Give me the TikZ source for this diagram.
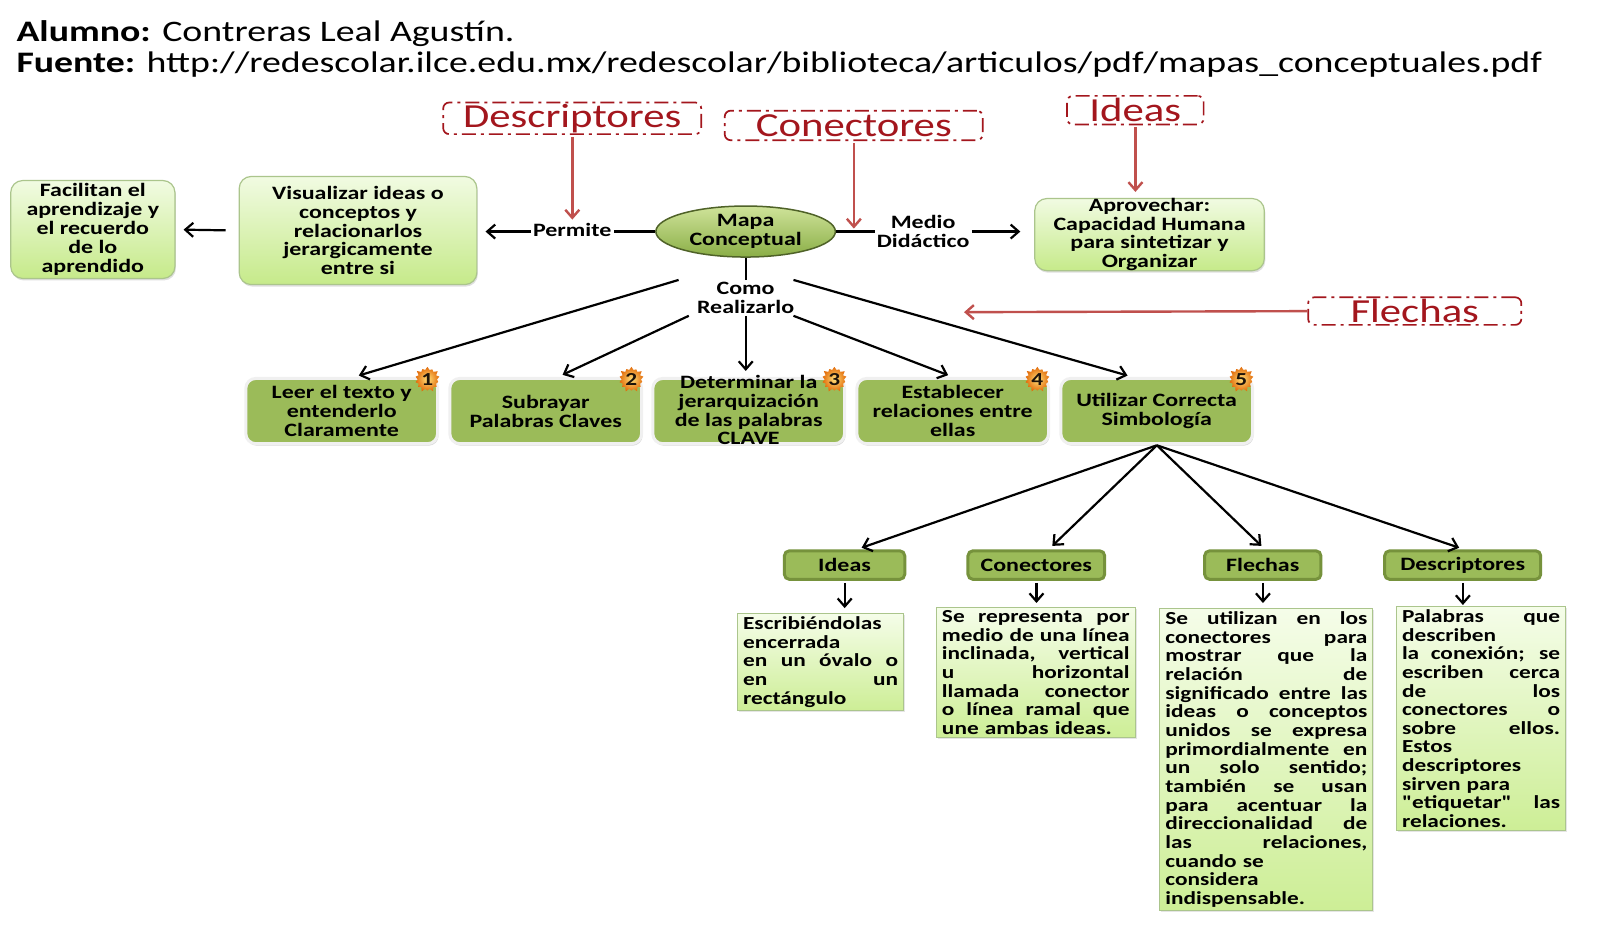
\documentclass[tikz,border=0pt]{standalone}
\usepackage{fontspec}
\setmainfont{Carlito}[FakeStretch=1.27]
\usetikzlibrary{arrows.meta,shapes.geometric,shapes.symbols,shadows,calc}
\definecolor{ogreen}{HTML}{9BBB59}
\definecolor{odark}{HTML}{76923C}
\definecolor{ltop}{HTML}{F1FBE2}
\definecolor{lbot}{HTML}{C6EA8A}
\definecolor{lborder}{HTML}{ABC58C}
\definecolor{dtop}{HTML}{F5FDE9}
\definecolor{dbot}{HTML}{CDEE96}
\definecolor{redtxt}{HTML}{A3161D}
\definecolor{redarr}{HTML}{C0504D}
\definecolor{etop}{HTML}{CFE39A}
\definecolor{ebot}{HTML}{8AAE46}
\definecolor{eborder}{HTML}{4F6228}
\definecolor{numtop}{HTML}{FFE07A}
\definecolor{numbot}{HTML}{E36C0A}
\newcommand{\jline}[1]{\makebox[\hsize][s]{\spaceskip=0.33em plus 1fil\xspaceskip=0.33em plus 1fil\relax #1}}
\newcommand{\sq}{{\addfontfeatures{Ligatures=TeXOff}"}}
\tikzset{
  txt/.style={font=\bfseries\fontsize{18.5}{18.5}\selectfont, align=center, inner sep=2pt},
  lightbox/.style={txt, rounded corners=12pt, draw=lborder, line width=1.2pt,
    top color=ltop, bottom color=lbot, inner sep=0pt,
    drop shadow={shadow xshift=1pt, shadow yshift=-2pt, opacity=0.25}},
  numbox/.style={txt, rounded corners=10pt, fill=ogreen, draw=white!94!black, line width=3pt,
    minimum width=188pt, minimum height=64pt, inner sep=0pt,
    drop shadow={shadow xshift=1pt, shadow yshift=-2pt, opacity=0.3}},
  badge/.style={starburst, starburst points=14, starburst point height=4pt,
    inner color=numtop, outer color=numbot, minimum size=27pt, inner sep=0pt,
    font=\bfseries\fontsize{18}{18}\selectfont, text=black!85!brown},
  tagbox/.style={txt, rounded corners=5pt, fill=ogreen, draw=odark, line width=3pt,
    minimum height=28pt, inner sep=0pt},
  descbox/.style={font=\bfseries\fontsize{18}{18.3}\selectfont, align=left, draw=lborder,
    line width=1pt, top color=dtop, bottom color=dbot, inner xsep=5.5pt, inner ysep=3pt,
    anchor=north, drop shadow={shadow xshift=1.5pt, shadow yshift=-1.5pt, opacity=0.2}},
  redbox/.style={draw=redtxt, text=redtxt, line width=1.7pt, rounded corners=6pt,
    dash pattern=on 14pt off 5pt on 3pt off 5pt,
    font=\fontsize{33}{33}\selectfont, inner sep=0pt},
  blk/.style={draw=black, line width=2.2pt, -{Straight Barb[length=8pt,width=14pt]}},
  blkline/.style={draw=black, line width=2.2pt},
  rarr/.style={draw=redarr, line width=2.4pt, -{Straight Barb[length=8pt,width=14pt]}},
}
\begin{document}
\begin{tikzpicture}[x=1pt,y=-1pt,scale=1.02,transform shape]
\fill[white] (0,0) rectangle (1568.63,926.47);
\useasboundingbox (0,0) rectangle (1568.63,926.47);

% header
\node[anchor=base west, inner sep=0pt, font=\fontsize{29.2}{33}\selectfont] (alumno) at (16,41)
  {\textbf{Alumno:} Contreras Leal Agustín.};
\node[anchor=base west, inner sep=0pt, font=\fontsize{29.2}{33}\selectfont] (fuente) at (16,71)
  {\textbf{Fuente:} http://redescolar.ilce.edu.mx/redescolar/biblioteca/articulos/pdf/mapas\_conceptuales.pdf};

% top row
\node[lightbox, minimum width=161pt, minimum height=96pt] (facil) at (91,225)
  {Facilitan el\\aprendizaje y\\el recuerdo\\de lo\\aprendido};
\node[lightbox, minimum width=233pt, minimum height=106pt] (visual) at (351,226)
  {Visualizar ideas o\\conceptos y\\relacionarlos\\jerargicamente\\entre si};
\node[txt] (permite) at (561,225) {Permite};
\node[ellipse, draw=eborder, line width=1.5pt, top color=etop, bottom color=ebot,
  minimum width=176pt, minimum height=50pt, inner sep=0pt,
  font=\bfseries\fontsize{18.5}{18}\selectfont, align=center] (mapa) at (731,227)
  {Mapa\\Conceptual};
\node[txt] (medio) at (905,227) {Medio\\Didáctico};
\node[lightbox, minimum width=225pt, minimum height=69pt, font=\bfseries\fontsize{18.5}{18.2}\selectfont] (aprov) at (1127,230)
  {Aprovechar:\\Capacidad Humana\\para sintetizar y\\Organizar};
\node[txt] (como) at (731,292) {Como\\Realizarlo};

% red labels
\node[redbox, minimum width=253pt, minimum height=31pt] (rDesc) at (561,116) {Descriptores};
\node[redbox, minimum width=253pt, minimum height=29pt] (rCon) at (837,123) {Conectores};
\node[redbox, minimum width=134pt, minimum height=28pt] (rIdeas) at (1113,108) {Ideas};
\node[redbox, minimum width=209pt, minimum height=27pt] (rFle) at (1387,305) {Flechas};
\coordinate (flTip) at (945,306);

% numbered boxes
\node[numbox] (b1) at (335,403) {Leer el texto y\\entenderlo\\Claramente};
\node[numbox] (b2) at (535,403) {Subrayar\\Palabras Claves};
\node[numbox] (b3) at (734,403)
  {\raisebox{-7pt}{\smash{\parbox{186pt}{\centering\fontsize{18.5}{18.3}\selectfont Determinar la\\jerarquización\\de las palabras\\CLAVE}}}};
\node[numbox] (b4) at (934,403) {Establecer\\relaciones entre\\ellas};
\node[numbox] (b5) at (1134,403) {Utilizar Correcta\\Simbología};
\node[badge] (n1) at (419,372) {1};
\node[badge] (n2) at (619,372) {2};
\node[badge] (n3) at (818,372) {3};
\node[badge] (n4) at (1017,372) {4};
\node[badge] (n5) at (1217,372) {5};

% tags
\node[tagbox, minimum width=118pt] (tIdeas) at (828,554) {Ideas};
\node[tagbox, minimum width=134pt] (tCon) at (1016,554) {Conectores};
\node[tagbox, minimum width=114pt] (tFle) at (1238,554) {Flechas};
\node[tagbox, minimum width=153pt] (tDes) at (1434,554) {Descriptores};

% descriptions
\node[descbox, text width=152pt] (dIdeas) at (804.5,601)
  {Escribiéndolas\\encerrada\\\jline{en un óvalo o}\\\jline{en un}\\rectángulo};
\node[descbox, text width=184pt] (dCon) at (1015.5,595)
  {\jline{Se representa por}\\\jline{medio de una línea}\\\jline{inclinada, vertical}\\\jline{u horizontal}\\\jline{llamada conector}\\\jline{o línea ramal que}\\une ambas ideas.};
\node[descbox, text width=198pt] (dFle) at (1241.5,596)
  {\jline{Se utilizan en los}\\\jline{conectores para}\\\jline{mostrar que la}\\\jline{relación de}\\\jline{significado entre las}\\\jline{ideas o conceptos}\\\jline{unidos se expresa}\\\jline{primordialmente en}\\\jline{un solo sentido;}\\\jline{también se usan}\\\jline{para acentuar la}\\\jline{direccionalidad de}\\\jline{las relaciones,}\\cuando se\\considera\\indispensable.};
\node[descbox, text width=155pt] (dDes) at (1452,594)
  {\jline{Palabras que}\\describen\\\jline{la conexión; se}\\\jline{escriben cerca}\\\jline{de los}\\\jline{conectores o}\\\jline{sobre ellos.}\\Estos\\descriptores\\sirven para\\\jline{\sq etiquetar\sq{} las}\\relaciones.};

% connectors top
\draw[blk, shorten <=13pt, shorten >=8pt] (visual.west) -- (facil.east);
\draw[blkline] (mapa.west) -- (mapa.west -| permite.east);
\draw[blk, shorten >=8pt] (mapa.west -| permite.west) -- (mapa.west -| visual.east);
\draw[blkline] (mapa.east) -- (medio.west |- mapa.east);
\draw[blk, shorten >=14pt] (medio.east |- mapa.east) -- (aprov.west |- mapa.east);
\draw[blkline] (mapa.south) -- (como.north);

% como -> boxes
\draw[blk, shorten >=5pt] ($(como.north west)+(-16,0)$) -- ($(b1.north)+(12,0)$);
\draw[blk, shorten >=5pt] ($(como.south west)+(-6,0)$) -- ($(b2.north)+(12,0)$);
\draw[blk, shorten >=6pt] (como.south) -- (como.south |- b3.north);
\draw[blk, shorten >=5pt] ($(como.south east)+(-3,0)$) -- (b4.north);
\draw[blk, shorten >=5pt] ($(como.north east)+(-3,0)$) -- ($(b5.north)+(-24,0)$);

% b5 -> tags
\draw[blk, shorten >=5pt] (b5.south) -- ($(tIdeas.north)+(12,0)$);
\draw[blk, shorten >=5pt] (b5.south) -- ($(tCon.north)+(12,0)$);
\draw[blk, shorten >=5pt] (b5.south) -- ($(tFle.north)+(2,0)$);
\draw[blk, shorten >=5pt] (b5.south) -- ($(tDes.north)+(1,0)$);

% tags -> descriptions
\draw[blk, shorten <=2pt, shorten >=5pt] (tIdeas.south) -- (tIdeas.south |- dIdeas.north);
\draw[blk, shorten <=2pt, shorten >=4pt] (tCon.south) -- (tCon.south |- dCon.north);
\draw[blk, shorten <=2pt, shorten >=5pt] (tFle.south) -- (tFle.south |- dFle.north);
\draw[blk, shorten <=2pt, shorten >=1pt] (tDes.south) -- (tDes.south |- dDes.north);

% red arrows
\draw[rarr, shorten <=2pt, shorten >=1pt] (rDesc.south) -- (rDesc.south |- permite.north);
\draw[rarr, shorten <=2pt, shorten >=3pt] (rCon.south) -- (rCon.south |- mapa.east);
\draw[rarr, shorten <=2pt, shorten >=6pt] (rIdeas.south) -- (rIdeas.south |- aprov.north);
\draw[rarr] (rFle.west) -- (flTip);
\end{tikzpicture}
\end{document}
